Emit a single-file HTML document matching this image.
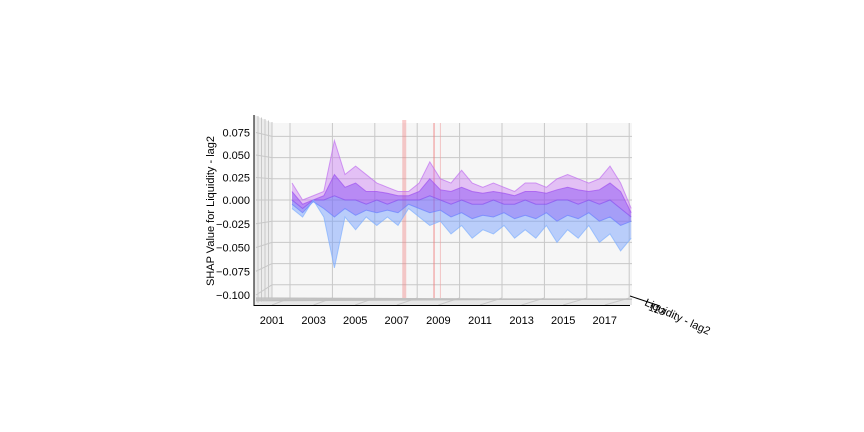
<!DOCTYPE html>
<html><head><meta charset="utf-8"><style>
body{margin:0;background:#fff;}
svg{display:block;font-family:"Liberation Sans","DejaVu Sans",sans-serif;}
</style></head><body>
<svg id="c" width="864" height="432" viewBox="0 0 864 432">
<g id="pane"></g>
<g id="grid"></g>
<g id="data"></g>
<g id="axes"></g>
</svg>
<script>
const years=[2002,2002.5,2003,2003.5,2004,2004.5,2005,2005.5,2006,2006.5,2007,2007.5,2008,2008.5,2009,2009.5,2010,2010.5,2011,2011.5,2012,2012.5,2013,2013.5,2014,2014.5,2015,2015.5,2016,2016.5,2017,2017.5,2018];
const upper=[0.02,0.0,0.005,0.01,0.07,0.03,0.04,0.03,0.02,0.015,0.01,0.01,0.02,0.045,0.025,0.02,0.035,0.02,0.015,0.02,0.015,0.01,0.02,0.02,0.015,0.025,0.03,0.025,0.02,0.025,0.04,0.02,-0.01];
const up2=[0.01,-0.005,0.0,0.005,0.03,0.015,0.02,0.01,0.01,0.008,0.005,0.005,0.01,0.025,0.012,0.01,0.015,0.01,0.008,0.01,0.008,0.005,0.01,0.01,0.008,0.012,0.015,0.012,0.01,0.012,0.02,0.01,-0.015];
const mid=[0.0,-0.01,0.0,0.0,0.005,0.0,0.0,-0.005,0.0,-0.005,0.0,0.0,0.0,0.005,0.0,-0.005,0.0,-0.005,-0.005,0.0,-0.005,-0.005,0.0,-0.005,-0.005,0.0,0.0,-0.005,0.0,-0.005,0.0,-0.01,-0.02];
const low2=[-0.005,-0.015,-0.002,-0.01,-0.02,-0.01,-0.018,-0.012,-0.015,-0.012,-0.015,-0.005,-0.01,-0.015,-0.012,-0.02,-0.015,-0.022,-0.018,-0.02,-0.015,-0.022,-0.018,-0.022,-0.015,-0.025,-0.018,-0.022,-0.015,-0.025,-0.02,-0.03,-0.025];
const lower=[-0.01,-0.02,0.0,-0.02,-0.08,-0.02,-0.035,-0.02,-0.03,-0.02,-0.03,-0.01,-0.02,-0.03,-0.025,-0.04,-0.03,-0.045,-0.035,-0.04,-0.03,-0.045,-0.035,-0.045,-0.03,-0.05,-0.035,-0.045,-0.03,-0.05,-0.04,-0.06,-0.045];
const yTicks=[0.075,0.05,0.025,0,-0.025,-0.05,-0.075,-0.1];
const yTickLabels=["0.075","0.050","0.025","0.000","\u22120.025","\u22120.050","\u22120.075","\u22120.100"];
const xTickLabels=["2001","2003","2005","2007","2009","2011","2013","2015","2017"];
const xTickYears=[2001,2003,2005,2007,2009,2011,2013,2015,2017];
const gridYears=[2002,2004,2006,2008,2010,2012,2014,2016,2018];
const NS="http://www.w3.org/2000/svg";
function mk(p,t,a){const e=document.createElementNS(NS,t);for(const k in a)e.setAttribute(k,a[k]);p.appendChild(e);return e;}
const X=y=>292+(y-2002)*21.2;
const Y=v=>200-v*848;
const XL=y=>272+(y-2001)*20.8;
const YL=v=>200-v*(v>=0?900:950);
const G=id=>document.getElementById(id);
let r=mk(G('pane'),'rect',{x:272,y:123,width:360,height:175,fill:'#f6f6f6'});


mk(G('pane'),'polygon',{points:'254,115 272,123 272,298 254,305',fill:'#ececec'});
mk(G('pane'),'polygon',{points:'254,305 272,298 632,298 632,305',fill:'#e6e6e6'});
yTicks.forEach(v=>{mk(G('grid'),'line',{x1:272,x2:632,y1:Y(v),y2:Y(v),stroke:'#c8c8c8','stroke-width':1});
 mk(G('grid'),'line',{x1:256,x2:272,y1:YL(v),y2:Y(v),stroke:'#c8c8c8','stroke-width':1});});
gridYears.forEach(y=>{mk(G('grid'),'line',{x1:X(y)-2,x2:X(y)-2,y1:123,y2:298,stroke:'#c8c8c8','stroke-width':1});});
xTickYears.forEach((y,i)=>{mk(G('grid'),'line',{x1:XL(y),y1:305,x2:X(gridYears[i])-2,y2:298,stroke:'#c8c8c8','stroke-width':1});});
for(let i=0;i<5;i++){mk(G('grid'),'line',{x1:258+i*3.5,y1:116+i*1.5,x2:258+i*3.5,y2:303-i*1.2,stroke:'#c8c8c8','stroke-width':1});
 mk(G('grid'),'line',{x1:256,y1:301-i*0.8,x2:632,y2:299-i*0.4+i*0.5,stroke:'#c0c0c0','stroke-width':0.8});}
let b=mk(G('grid'),'rect',{x:X(2007.2),y:120,width:4,height:178,fill:'#f08080',opacity:0.4});


let l1=mk(G('grid'),'line',{x1:X(2008.7),x2:X(2008.7),y1:123,y2:298,stroke:'#f08080','stroke-width':1.5,opacity:0.6});


let l2=mk(G('grid'),'line',{x1:X(2009),x2:X(2009),y1:123,y2:298,stroke:'#f0a0a0','stroke-width':1,opacity:0.6});


function band(a,b2,col,op,name){const pts=years.map((y,i)=>X(y)+','+Y(a[i])).concat(years.slice().reverse().map((y,j)=>{const i=years.length-1-j;return X(y)+','+Y(b2[i]);}));
 const p=mk(G('data'),'polygon',{points:pts.join(' '),fill:col,opacity:op});
 
 }
band(upper,up2,'#c870f5',0.4,'band-upper');
band(up2,mid,'#9650f2',0.65,'band-upper-mid');
band(mid,low2,'#7a6ef8',0.65,'band-lower-mid');
band(low2,lower,'#6e9cff',0.45,'band-lower');
function line(a,col,name){const p=mk(G('data'),'polyline',{points:years.map((y,i)=>X(y)+','+Y(a[i])).join(' '),fill:'none',stroke:col,'stroke-width':1,opacity:0.7});
 
 }
line(upper,'#c070f0','line-upper');line(up2,'#a050f0','line-up2');line(mid,'#8850f0','line-mid');line(low2,'#6a80ff','line-low2');line(lower,'#80b0ff','line-lower');
mk(G('axes'),'line',{x1:254,y1:115,x2:254,y2:306,stroke:'#000','stroke-width':1});
mk(G('axes'),'line',{x1:254,y1:305.5,x2:630,y2:305.5,stroke:'#000','stroke-width':1});
mk(G('axes'),'line',{x1:630,y1:296,x2:660,y2:306,stroke:'#000','stroke-width':1});
yTicks.forEach((v,i)=>{const t=mk(G('axes'),'text',{x:250,y:YL(v)+4,'text-anchor':'end','font-size':11,fill:'#000'});t.textContent=yTickLabels[i];
 
 });
xTickYears.forEach((y,i)=>{const t=mk(G('axes'),'text',{x:XL(y),y:324,'text-anchor':'middle','font-size':11,fill:'#000'});t.textContent=xTickLabels[i];
 
 });
let yt=mk(G('axes'),'text',{x:0,y:0,transform:'translate(214,211) rotate(-90)','text-anchor':'middle','font-size':11,fill:'#000'});
yt.textContent='SHAP Value for Liquidity - lag2';


let zt=mk(G('axes'),'text',{x:0,y:0,transform:'translate(676,320) rotate(25)','text-anchor':'middle','font-size':11,fill:'#000'});
zt.textContent='Liquidity - lag2';


let zl=mk(G('axes'),'text',{x:0,y:0,transform:'translate(648,310) rotate(20)','font-size':10,fill:'#000'});
zl.textContent='123';


</script>
</body></html>
